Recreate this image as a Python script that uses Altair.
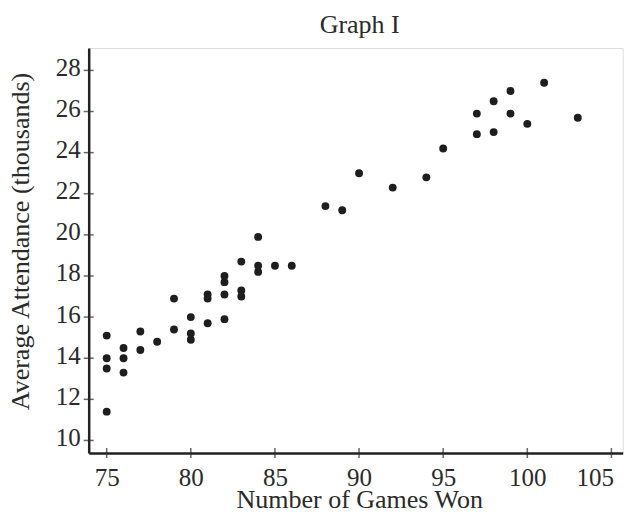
import altair as alt
import pandas as pd

wins = [75, 75, 75, 75, 76, 76, 76, 77, 77, 78, 79, 79, 80, 80, 80, 81, 81, 81,
        82, 82, 82, 82, 83, 83, 83, 84, 84, 84, 85, 86, 88, 89, 90, 92, 94, 95,
        97, 97, 98, 98, 99, 99, 100, 101, 103]
attendance = [15.1, 14.0, 13.5, 11.4, 14.5, 14.0, 13.3, 15.3, 14.4, 14.8, 16.9, 15.4,
              16.0, 15.2, 14.9, 17.1, 16.9, 15.7, 18.0, 17.7, 17.1, 15.9, 18.7, 17.3,
              17.0, 19.9, 18.5, 18.2, 18.5, 18.5, 21.4, 21.2, 23.0, 22.3, 22.8, 24.2,
              25.9, 24.9, 26.5, 25.0, 27.0, 25.9, 25.4, 27.4, 25.7]
x_ticks = [75, 80, 85, 90, 95, 100, 105]
y_ticks = [10, 12, 14, 16, 18, 20, 22, 24, 26, 28]

df = pd.DataFrame({"wins": wins, "att": attendance})
xt = pd.DataFrame({"v": x_ticks})
yt = pd.DataFrame({"v": y_ticks})

FONT = "Liberation Serif"
INK = "#2a2a2a"
W, H = 534, 405

xscale = alt.Scale(domain=[73.93, 105.67], nice=False, zero=False)
yscale = alt.Scale(domain=[9.39, 29.09], nice=False, zero=False)

points = alt.Chart(df).mark_circle(size=62, color="#1e1e1e", opacity=1).encode(
    x=alt.X("wins:Q", scale=xscale,
            axis=alt.Axis(title="Number of Games Won", values=x_ticks, ticks=False, tickSize=0,
                          grid=False, labelPadding=32, labelBaseline="alphabetic",
                          labelFontSize=25, labelFont=FONT, labelColor=INK,
                          labelFlush=14, labelFlushOffset=2,
                          titleFont=FONT, titleFontSize=26, titleColor=INK, titleFontWeight="normal",
                          titleBaseline="alphabetic", titleY=54.5, titleX=270.5,
                          domainColor="#222", domainWidth=2.5)),
    y=alt.Y("att:Q", scale=yscale,
            axis=alt.Axis(title="Average Attendance (thousands)", values=y_ticks, ticks=False,
                          tickSize=0, grid=False, labelPadding=8.5, labelOffset=-3,
                          labelFontSize=25, labelFont=FONT, labelColor=INK, labelFlush=False,
                          titleFont=FONT, titleFontSize=26, titleColor=INK, titleFontWeight="normal",
                          titleBaseline="alphabetic", titleX=-60, titleY=193, titleAngle=270,
                          domainColor="#222", domainWidth=2.5)),
)

xticks = alt.Chart(xt).mark_tick(orient="vertical", size=10, thickness=1.5, color=INK).encode(
    x=alt.X("v:Q", scale=xscale), y=alt.value(H))
yticks = alt.Chart(yt).mark_tick(orient="horizontal", size=10, thickness=1.5, color=INK).encode(
    y=alt.Y("v:Q", scale=yscale), x=alt.value(0))

chart = alt.layer(points, xticks, yticks).properties(
    width=W, height=H,
    title=alt.TitleParams("Graph I", font=FONT, fontSize=26, fontWeight="normal", color=INK,
                          anchor="middle", baseline="alphabetic", offset=13, dx=4, dy=24),
    autosize=alt.AutoSizeParams(type="none"),
    padding={"left": 80.7, "top": 40, "right": 2.3, "bottom": 55},
).configure_view(stroke="#3a3a3a", strokeWidth=3).configure(background="white")

chart.save("out.html", embed_options={"renderer": "svg", "actions": False})
